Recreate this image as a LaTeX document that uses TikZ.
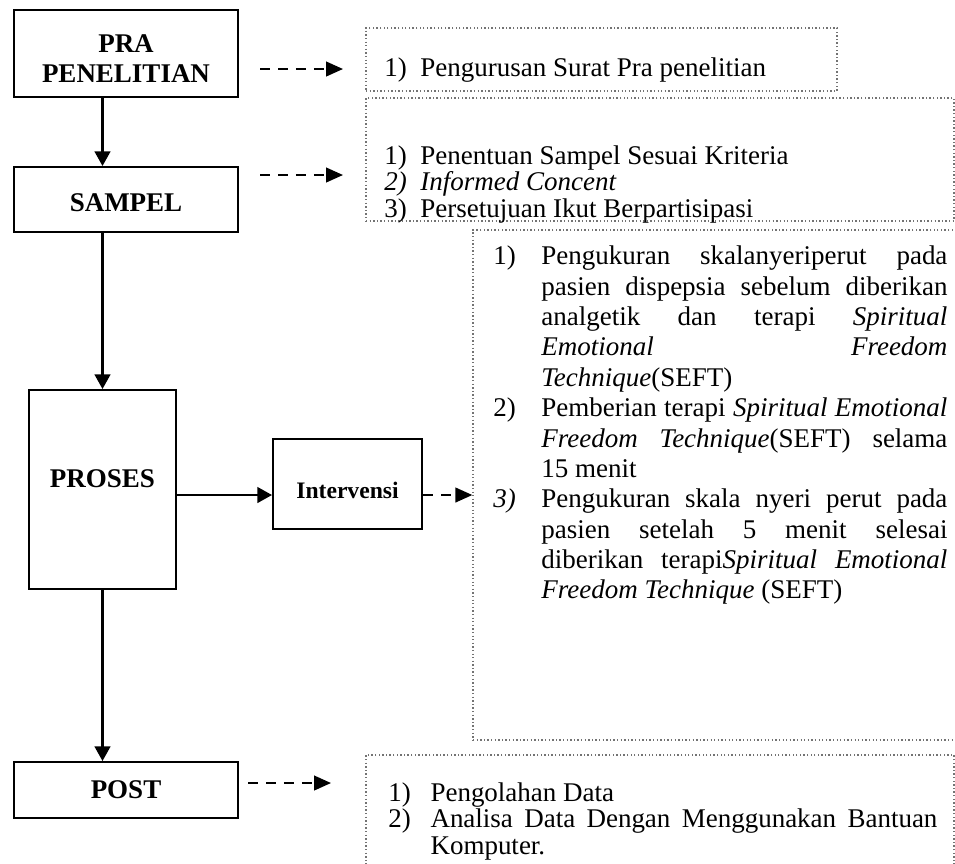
\documentclass[tikz,border=0pt]{standalone}
\usepackage{fontspec}
\setmainfont{Liberation Serif}
\usetikzlibrary{arrows.meta}

\newcommand{\numitem}[2]{\par\noindent\hangindent=#1\hangafter=1\makebox[#1][l]{#2}\ignorespaces}

\begin{document}
\begin{tikzpicture}[x=0.015625cm, y=-0.015625cm,
    stage/.style={draw, line width=0.9pt, align=center, inner sep=0pt,
      font=\fontsize{12}{13}\selectfont\bfseries},
    infobox/.style={draw=black!55, densely dotted, line width=0.6pt, inner sep=0pt},
    infotext/.style={anchor=north west, inner sep=0pt, align=justify,
      execute at begin node={\tolerance=10000\hbadness=10000}},
    flow/.style={line width=0.9pt, -{Triangle[length=6.5pt, width=7pt]}},
    dflow/.style={line width=0.9pt, dash pattern=on 4.5pt off 3.5pt,
      -{Triangle[length=7.5pt, width=6.5pt]}},
  ]
  \def\px{0.015625cm}   % one pixel of the reference
  \useasboundingbox (0,0) rectangle (955,863);

  % ===== stages (left column) =====
  \node[stage, minimum width=224*\px, minimum height=87*\px] (pra) at (126,53.5) {\rule{0pt}{12.5pt}PRA\\PENELITIAN};
  \node[stage, minimum width=224*\px, minimum height=65*\px, text height=10.5pt, text depth=0pt] (sampel) at (126,199.5) {SAMPEL};
  \node[stage, minimum width=147*\px, minimum height=199*\px] (proses) at (102.5,489.5) {};
  \node[font=\fontsize{12}{13}\selectfont\bfseries] (proseslbl) at (102.5,479) {PROSES};
  \node[stage, font=\fontsize{10.5}{12}\selectfont\bfseries, text height=12.6pt, text depth=0pt,
    minimum width=149*\px, minimum height=90*\px] (interv) at (347.5,484) {Intervensi};
  \node[stage, minimum width=224*\px, minimum height=56*\px] (post) at (126,790) {POST};

  \draw[flow] (pra.south -| proses.north) -- (sampel.north -| proses.north);
  \draw[flow] (sampel.south -| proses.north) -- (proses.north);
  \draw[flow] (proses.south) -- (post.north -| proses.south);
  \coordinate (hook) at ([yshift=-11*\px]interv.west);
  \draw[flow] (proses.east |- hook) -- (hook);

  % ===== dotted boxes (right column) =====
  \node[infobox, minimum width=471*\px, minimum height=63*\px] (info1) at (601.5,59.5) {};
  \node[infobox, minimum width=588*\px, minimum height=123*\px] (info2) at (660,159.5) {};
  \node[infobox, minimum width=487*\px, minimum height=510*\px] (info3) at (716.5,485) {};
  \node[infobox, minimum width=588*\px, minimum height=130*\px] (info4) at (660,820) {};

  \coordinate (d1a) at (260,69);  \coordinate (d1b) at (343,69);
  \coordinate (d2a) at (260,175); \coordinate (d2b) at (343,175);
  \coordinate (d4a) at (248,783); \coordinate (d4b) at (331,783);
  \draw[dflow] (d1a) -- (d1b);
  \draw[dflow] (d2a) -- (d2b);
  \draw[dflow] (interv.east |- hook) -- (info3.west |- hook);
  \draw[dflow] (d4a) -- (d4b);

  \node[infotext, text width=446*\px, font=\fontsize{12}{11.8}\selectfont] (txt1) at (384,49) {%
    \numitem{16pt}{1)}Pengurusan Surat Pra penelitian\par};
  \node[infotext, text width=566*\px, font=\fontsize{12}{11.8}\selectfont] (txt2) at (384,137) {%
    \numitem{16pt}{1)}Penentuan Sampel Sesuai Kriteria
    \numitem{16pt}{\textit{2)}}\textit{Informed Concent}
    \numitem{16pt}{3)}Persetujuan Ikut Berpartisipasi\par};
  \node[infotext, text width=454*\px, font=\fontsize{12}{13.5}\selectfont] (txt3) at (493,234) {%
    \numitem{21.3pt}{1)}Pengukuran skalanyeriperut pada\linebreak pasien dispepsia sebelum diberikan\linebreak
    analgetik dan terapi \textit{Spiritual}\linebreak \textit{Emotional Freedom}\linebreak \textit{Technique}(SEFT)
    \numitem{21.3pt}{2)}Pemberian terapi \textit{Spiritual Emotional}\linebreak \textit{Freedom Technique}(SEFT) selama\linebreak 15 menit
    \numitem{21.3pt}{\textit{3)}}Pengukuran skala nyeri perut pada\linebreak pasien setelah 5 menit selesai\linebreak
    diberikan terapi\textit{Spiritual Emotional}\linebreak \textit{Freedom Technique} (SEFT)\par};
  \node[infotext, text width=549*\px, font=\fontsize{12}{11.8}\selectfont] (txt4) at (388,774) {%
    \numitem{18.7pt}{1)}Pengolahan Data
    \numitem{18.7pt}{2)}Analisa Data Dengan Menggunakan Bantuan\linebreak Komputer.\par};
\end{tikzpicture}
\end{document}
